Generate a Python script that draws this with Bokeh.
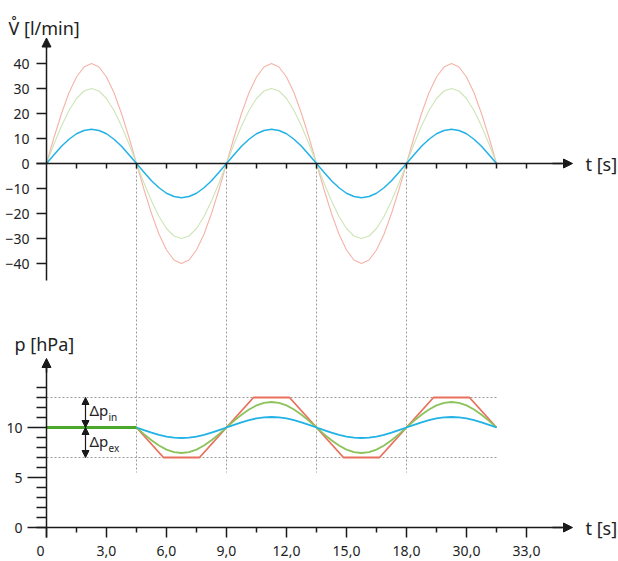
from bokeh.plotting import figure
from bokeh.models import Range1d, LinearAxis, FixedTicker, Arrow, NormalHead, Label
from bokeh.embed import file_html
from bokeh.resources import INLINE

# ---------------- data ----------------
# upper chart: flow [l/min] over time [s]
T_TOP = [0.0, 0.375, 0.75, 1.125, 1.5, 1.875, 2.25, 2.625, 3.0, 3.375, 3.75, 4.125,
         4.5, 4.875, 5.25, 5.625, 6.0, 6.375, 6.75, 7.125, 7.5, 7.875, 8.25, 8.625,
         9.0, 9.375, 9.75, 10.125, 10.5, 10.875, 11.25, 11.625, 12.0, 12.375, 12.75, 13.125,
         13.5, 13.875, 14.25, 14.625, 15.0, 15.375, 15.75, 16.125, 16.5, 16.875, 17.25, 17.625,
         18.0, 18.375, 18.75, 19.125, 19.5, 19.875, 20.25, 20.625, 21.0, 21.375, 21.75, 22.125,
         22.5]
FLOW_RED = [0.0, 10.4, 20.0, 28.3, 34.6, 38.6, 40.0, 38.6, 34.6, 28.3, 20.0, 10.4,
            0.0, -10.4, -20.0, -28.3, -34.6, -38.6, -40.0, -38.6, -34.6, -28.3, -20.0, -10.4,
            0.0, 10.4, 20.0, 28.3, 34.6, 38.6, 40.0, 38.6, 34.6, 28.3, 20.0, 10.4,
            0.0, -10.4, -20.0, -28.3, -34.6, -38.6, -40.0, -38.6, -34.6, -28.3, -20.0, -10.4,
            0.0, 10.4, 20.0, 28.3, 34.6, 38.6, 40.0, 38.6, 34.6, 28.3, 20.0, 10.4,
            0.0]
FLOW_GREEN = [0.0, 7.8, 15.0, 21.2, 26.0, 29.0, 30.0, 29.0, 26.0, 21.2, 15.0, 7.8,
              0.0, -7.8, -15.0, -21.2, -26.0, -29.0, -30.0, -29.0, -26.0, -21.2, -15.0, -7.8,
              0.0, 7.8, 15.0, 21.2, 26.0, 29.0, 30.0, 29.0, 26.0, 21.2, 15.0, 7.8,
              0.0, -7.8, -15.0, -21.2, -26.0, -29.0, -30.0, -29.0, -26.0, -21.2, -15.0, -7.8,
              0.0, 7.8, 15.0, 21.2, 26.0, 29.0, 30.0, 29.0, 26.0, 21.2, 15.0, 7.8,
              0.0]
FLOW_BLUE = [0.0, 3.5, 6.9, 9.7, 11.9, 13.2, 13.7, 13.2, 11.9, 9.7, 6.9, 3.5,
             0.0, -3.5, -6.9, -9.7, -11.9, -13.2, -13.7, -13.2, -11.9, -9.7, -6.9, -3.5,
             0.0, 3.5, 6.9, 9.7, 11.9, 13.2, 13.7, 13.2, 11.9, 9.7, 6.9, 3.5,
             0.0, -3.5, -6.9, -9.7, -11.9, -13.2, -13.7, -13.2, -11.9, -9.7, -6.9, -3.5,
             0.0, 3.5, 6.9, 9.7, 11.9, 13.2, 13.7, 13.2, 11.9, 9.7, 6.9, 3.5,
             0.0]
FLOW_TICKS = [-40, -30, -20, -10, 0, 10, 20, 30, 40]
TOP_TIME_TICKS = [1.5, 3.0, 4.5, 6.0, 7.5, 9.0, 10.5, 12.0, 13.5, 15.0, 16.5, 18.0,
                  19.5, 21.0, 22.5, 24.0]

# lower chart: pressure [hPa] over time [s]
T_BASE = [0.0, 4.5]
P_BASE = [10.0, 10.0]
T_BOT = [4.5, 4.875, 5.25, 5.625, 6.0, 6.375, 6.75, 7.125, 7.5, 7.875, 8.25, 8.625,
         9.0, 9.375, 9.75, 10.125, 10.5, 10.875, 11.25, 11.625, 12.0, 12.375, 12.75, 13.125,
         13.5, 13.875, 14.25, 14.625, 15.0, 15.375, 15.75, 16.125, 16.5, 16.875, 17.25, 17.625,
         18.0, 18.375, 18.75, 19.125, 19.5, 19.875, 20.25, 20.625, 21.0, 21.375, 21.75, 22.125,
         22.5]
P_BLUE = [10.0, 9.73, 9.48, 9.26, 9.09, 8.99, 8.95, 8.99, 9.09, 9.26, 9.48, 9.73,
          10.0, 10.27, 10.52, 10.74, 10.91, 11.01, 11.05, 11.01, 10.91, 10.74, 10.52, 10.27,
          10.0, 9.73, 9.48, 9.26, 9.09, 8.99, 8.95, 8.99, 9.09, 9.26, 9.48, 9.73,
          10.0, 10.27, 10.52, 10.74, 10.91, 11.01, 11.05, 11.01, 10.91, 10.74, 10.52, 10.27,
          10.0]
P_GREEN = [10.0, 9.34, 8.73, 8.2, 7.79, 7.54, 7.45, 7.54, 7.79, 8.2, 8.73, 9.34,
           10.0, 10.66, 11.27, 11.8, 12.21, 12.46, 12.55, 12.46, 12.21, 11.8, 11.27, 10.66,
           10.0, 9.34, 8.73, 8.2, 7.79, 7.54, 7.45, 7.54, 7.79, 8.2, 8.73, 9.34,
           10.0, 10.66, 11.27, 11.8, 12.21, 12.46, 12.55, 12.46, 12.21, 11.8, 11.27, 10.66,
           10.0]
T_RED = [4.5, 5.85, 7.65, 9.0, 10.35, 12.15, 13.5, 14.85, 16.65, 18.0, 19.35, 21.15, 22.5]
P_RED = [10.0, 7.0, 7.0, 10.0, 13.0, 13.0, 10.0, 7.0, 7.0, 10.0, 13.0, 13.0, 10.0]
P_LIMITS = [13.0, 7.0]          # dashed guide levels
T_PHASES = [4.5, 9.0, 13.5, 18.0]
P_MAJOR = [0, 5, 10]
P_MINOR = [1, 2, 3, 4, 6, 7, 8, 9, 11, 12, 13, 14]
T_MAJOR = [0, 3, 6, 9, 12, 15, 18, 21, 24]
T_MINOR = [1.5, 4.5, 7.5, 10.5, 13.5, 16.5, 19.5, 22.5]
T_LABELS = ["", "3,0", "6,0", "9,0", "12,0", "15,0", "18,0", "30,0", "33,0"]

# ---------------- styles ----------------
FONT = "Noto Sans"
AX = "#1a1a1a"
C_RED_L, C_GREEN_L = "#f5b3a8", "#cfe4b6"
C_RED, C_GREEN, C_BLUE, C_BASE = "#e8705c", "#8cc35c", "#22b2e6", "#4aa82a"
GUIDE = "#9a9a9a"

W, H = 618, 561
p = figure(width=W, height=H, output_backend="svg", toolbar_location=None,
           x_range=Range1d(-2.3, 28.6), y_range=Range1d(-3.4, 52.7),
           x_axis_type=None, y_axis_type=None, min_border=0)
p.extra_y_ranges = {"flow": Range1d(-159.2, 65.2)}
p.outline_line_color = None
p.background_fill_color = "white"
p.border_fill_color = "white"


def style(ax):
    ax.axis_line_color = AX
    ax.axis_line_width = 1.5
    ax.major_tick_line_color = AX
    ax.minor_tick_line_color = AX
    ax.major_tick_line_width = 1.5
    ax.minor_tick_line_width = 1.5
    ax.major_tick_in = 0
    ax.minor_tick_in = 0
    ax.major_label_text_font = FONT
    ax.major_label_text_font_size = "14px"
    ax.major_label_text_color = "#222222"


# guide lines
p.segment(x0=T_PHASES, y0=[36.4] * len(T_PHASES), x1=T_PHASES, y1=[5.5] * len(T_PHASES),
          line_color=GUIDE, line_width=1, line_dash="2 2")
p.segment(x0=[0.0] * 2, y0=P_LIMITS, x1=[22.5] * 2, y1=P_LIMITS,
          line_color=GUIDE, line_width=1, line_dash="2 2")

# upper curves
p.line(T_TOP, FLOW_RED, y_range_name="flow", line_color=C_RED_L, line_width=1.1)
p.line(T_TOP, FLOW_GREEN, y_range_name="flow", line_color=C_GREEN_L, line_width=1.1)
p.line(T_TOP, FLOW_BLUE, y_range_name="flow", line_color=C_BLUE, line_width=1.5)

# lower curves
p.line(T_RED, P_RED, line_color=C_RED, line_width=1.8)
p.line(T_BOT, P_GREEN, line_color=C_GREEN, line_width=1.8)
p.line(T_BOT, P_BLUE, line_color=C_BLUE, line_width=1.8)
p.line(T_BASE, P_BASE, line_color=C_BASE, line_width=3)

# axes of the upper chart
fy = LinearAxis(y_range_name="flow", fixed_location=0, bounds=(-46.8, 48.0),
                ticker=FixedTicker(ticks=FLOW_TICKS, minor_ticks=[]))
style(fy)
fy.major_tick_out = 10
fy.major_label_standoff = 7
p.add_layout(fy, "left")

fx = LinearAxis(y_range_name="flow", fixed_location=0, bounds=(-0.5, 25.8),
                ticker=FixedTicker(ticks=[], minor_ticks=TOP_TIME_TICKS))
style(fx)
fx.minor_tick_out = 5
p.add_layout(fx, "below")

# axes of the lower chart
py = LinearAxis(fixed_location=0, bounds=(-1.0, 16.0),
                ticker=FixedTicker(ticks=P_MAJOR, minor_ticks=P_MINOR))
style(py)
py.major_tick_out = 19
py.minor_tick_out = 10
py.major_label_standoff = 5
p.add_layout(py, "left")

px = LinearAxis(fixed_location=0, bounds=(-0.5, 25.8),
                ticker=FixedTicker(ticks=T_MAJOR, minor_ticks=T_MINOR),
                major_label_overrides=dict(zip(T_MAJOR, T_LABELS)))
style(px)
px.major_tick_out = 10
px.minor_tick_out = 5
px.major_label_standoff = 8
p.add_layout(px, "below")

# arrow heads on axes
def head():
    return NormalHead(size=9, fill_color=AX, line_color=AX, line_width=1)

p.add_layout(Arrow(x_start=0, y_start=46.0, x_end=0, y_end=50.2, y_range_name="flow",
                   end=head(), line_color=AX, line_width=1.5))
p.add_layout(Arrow(x_start=25.3, y_start=0, x_end=26.3, y_end=0, y_range_name="flow",
                   end=head(), line_color=AX, line_width=1.5))
p.add_layout(Arrow(x_start=0, y_start=15.5, x_end=0, y_end=16.9,
                   end=head(), line_color=AX, line_width=1.5))
p.add_layout(Arrow(x_start=25.3, y_start=0, x_end=26.3, y_end=0,
                   end=head(), line_color=AX, line_width=1.5))

# delta-p arrows
def small_head():
    return NormalHead(size=7, fill_color=AX, line_color=AX, line_width=1)

p.add_layout(Arrow(x_start=1.95, y_start=10.0, x_end=1.95, y_end=13.0,
                   start=small_head(), end=small_head(), line_color=AX, line_width=1.2))
p.add_layout(Arrow(x_start=1.95, y_start=10.0, x_end=1.95, y_end=7.0,
                   start=small_head(), end=small_head(), line_color=AX, line_width=1.2))

# texts
def label(x, y, text, size, rng=None, align="left", baseline="alphabetic"):
    kw = dict(x=x, y=y, text=text, text_font=FONT, text_font_size=size,
              text_color="#222222", text_align=align, text_baseline=baseline)
    if rng:
        kw["y_range_name"] = rng
    p.add_layout(Label(**kw))

label(-1.9, 54.4, "V\u030a [l/min]", "18px", rng="flow")
label(26.95, 0, "t [s]", "18px", rng="flow", baseline="middle")
label(-1.6, 18.4, "p [hPa]", "18px")
label(26.95, 0, "t [s]", "18px", baseline="middle")
label(-0.3, -1.8, "0", "14px", align="center", baseline="top")
label(2.15, 11.8, "\u0394p", "15px")
label(3.1, 11.1, "in", "10px")
label(2.15, 8.7, "\u0394p", "15px")
label(3.1, 8.0, "ex", "10px")

open("out.html", "w").write(file_html(p, INLINE))
